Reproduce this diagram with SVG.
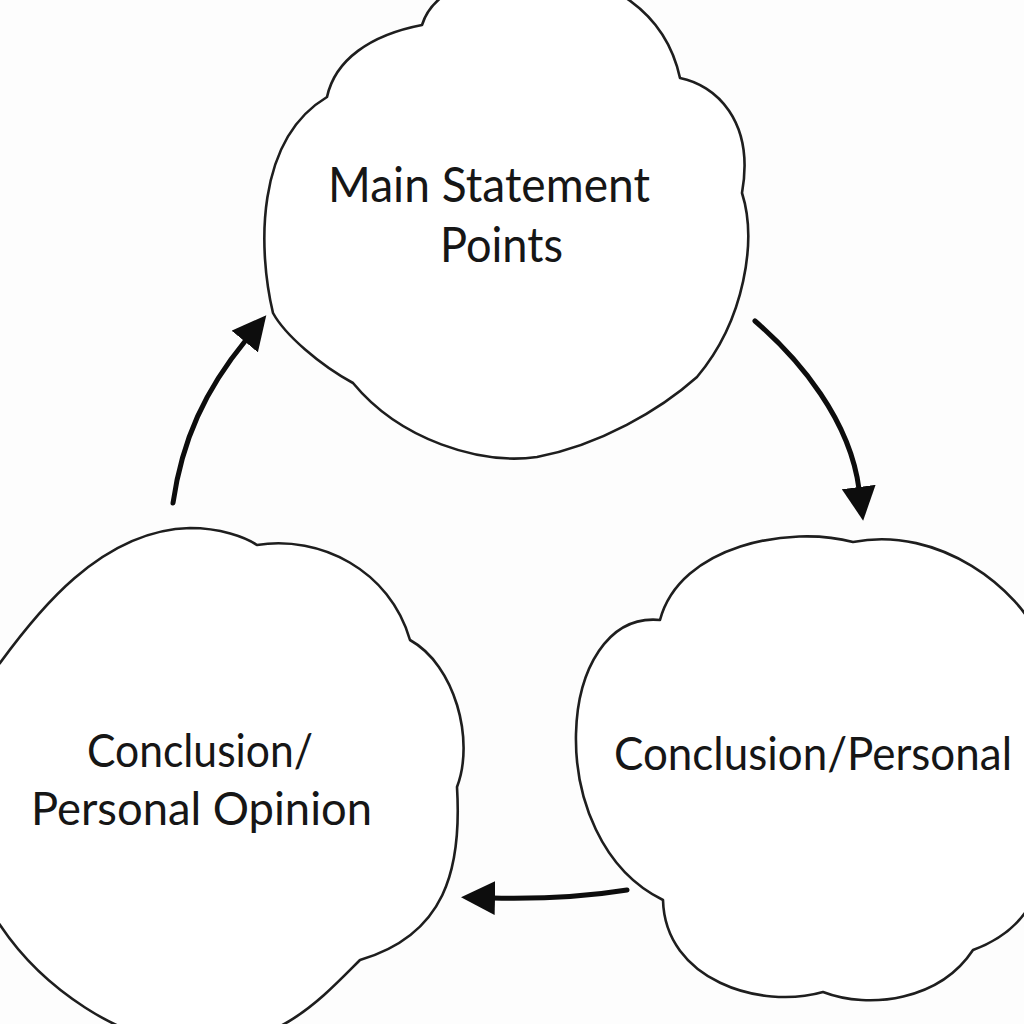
<svg xmlns="http://www.w3.org/2000/svg" width="1024" height="1024" viewBox="0 0 1024 1024">
<style>
.blob{fill:#ffffff;stroke:#1e1e1e;stroke-width:2.6;stroke-linejoin:round}
.lbl{font-family:Lato,"Open Sans","Liberation Sans",sans-serif;fill:#161616;font-size:46px}
.conn{fill:none;stroke:#0d0d0d;stroke-width:5;stroke-linecap:round}
</style>
<defs>
<marker id="ah" markerUnits="userSpaceOnUse" markerWidth="36" markerHeight="34" viewBox="0 0 36 34" refX="2" refY="17" orient="auto">
<path d="M0,0 L34,17 L0,34 Z" fill="#0d0d0d"/>
</marker>
</defs>
<rect width="1024" height="1024" fill="#fdfdfd"/>
<g id="node-main">
<path class="blob" d="M422,25 C445,-50 650,-60 680,78 C715,85 755,120 742,193 C757,240 745,320 697,377 C660,410 600,445 537,457 C480,465 400,440 353,383 C320,365 285,335 273,313 C258,250 255,140 327,97 C335,60 370,35 422,25 Z"/>
<text class="lbl" x="328" y="202" textLength="322" lengthAdjust="spacingAndGlyphs" style="font-size:48px">Main Statement</text>
<text class="lbl" x="440" y="262" textLength="123" lengthAdjust="spacingAndGlyphs" style="font-size:48px">Points</text>
</g>
<g id="node-left">
<path class="blob" d="M257,545 C320,535 390,570 410,640 C455,665 475,740 457,787 C462,870 445,935 360,960 C320,1000 280,1045 200,1045 C120,1045 40,985 0,925 C-40,870 -40,700 0,663 C35,615 100,530 190,528 C220,528 245,537 257,545 Z"/>
<text class="lbl" x="87" y="767" textLength="226" lengthAdjust="spacingAndGlyphs">Conclusion/</text>
<text class="lbl" x="31" y="825" textLength="341" lengthAdjust="spacingAndGlyphs">Personal Opinion</text>
</g>
<g id="node-right">
<path class="blob" d="M853,542 C790,525 680,545 660,620 C555,610 540,840 663,900 C665,980 760,1010 823,992 C870,1010 940,1000 973,950 C1000,940 1030,920 1040,880 L1040,640 C1020,590 940,525 853,542 Z"/>
<text class="lbl" x="614" y="770" textLength="398" lengthAdjust="spacingAndGlyphs">Conclusion/Personal</text>
</g>
<g id="connectors">
<path class="conn" marker-end="url(#ah)" d="M173,503 C182,440 205,390 246,340"/>
<path class="conn" marker-end="url(#ah)" d="M755,321 C800,360 850,420 859,489"/>
<path class="conn" marker-end="url(#ah)" d="M627,890 C590,896 540,899 493,898"/>
</g>
</svg>
